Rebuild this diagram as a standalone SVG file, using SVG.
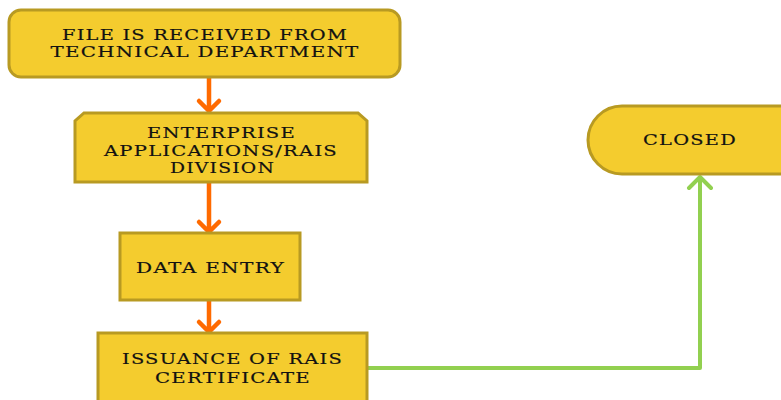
<svg xmlns="http://www.w3.org/2000/svg" width="781" height="400" viewBox="0 0 781 400">
  <style>
    .box { fill: #F4CC2E; stroke: #B89A22; stroke-width: 3; }
    .lbl { font-family: "DejaVu Serif", "Liberation Serif", serif; font-size: 15.5px; fill: #111; stroke: #111; stroke-width: 0.2; text-anchor: middle; letter-spacing: 1px; }
    .flow { fill: none; stroke: #FF6A00; stroke-width: 4.5; stroke-linecap: round; stroke-linejoin: round; }
    .done { fill: none; stroke: #92D050; stroke-width: 4; stroke-linecap: round; stroke-linejoin: round; }
  </style>
  <rect width="781" height="400" fill="#fff"/>

  <g id="connectors">
    <path class="flow" d="M209 78 V110 M199 101 L209 111 L219 101"/>
    <path class="flow" d="M209 183 V231 M199 222 L209 232 L219 222"/>
    <path class="flow" d="M209 301 V331 M199 322 L209 332 L219 322"/>
    <path class="done" d="M368 368 H700 V177 M689 188 L700 177 L711 188"/>
  </g>

  <g id="received">
    <rect class="box" x="9" y="10" width="391" height="67" rx="12"/>
    <text class="lbl" x="205" y="40" textLength="286" lengthAdjust="spacingAndGlyphs">FILE IS RECEIVED FROM</text>
    <text class="lbl" x="205" y="57" textLength="309" lengthAdjust="spacingAndGlyphs">TECHNICAL DEPARTMENT</text>
  </g>

  <g id="division">
    <path class="box" d="M84 113 H358 L367 121 V182 H75 V121 Z"/>
    <text class="lbl" x="221.5" y="138" textLength="149" lengthAdjust="spacingAndGlyphs">ENTERPRISE</text>
    <text class="lbl" x="221" y="156" textLength="234" lengthAdjust="spacingAndGlyphs">APPLICATIONS/RAIS</text>
    <text class="lbl" x="222.5" y="173" textLength="105" lengthAdjust="spacingAndGlyphs">DIVISION</text>
  </g>

  <g id="entry">
    <rect class="box" x="120" y="233" width="180" height="67"/>
    <text class="lbl" x="210.5" y="273" textLength="149" lengthAdjust="spacingAndGlyphs">DATA ENTRY</text>
  </g>

  <g id="issuance">
    <rect class="box" x="98" y="333" width="269" height="80"/>
    <text class="lbl" x="232.5" y="364" textLength="221" lengthAdjust="spacingAndGlyphs">ISSUANCE OF RAIS</text>
    <text class="lbl" x="233" y="383" textLength="156" lengthAdjust="spacingAndGlyphs">CERTIFICATE</text>
  </g>

  <g id="closed">
    <rect class="box" x="588" y="106" width="230" height="68" rx="34"/>
    <text class="lbl" x="690" y="145" textLength="94" lengthAdjust="spacingAndGlyphs">CLOSED</text>
  </g>
</svg>
